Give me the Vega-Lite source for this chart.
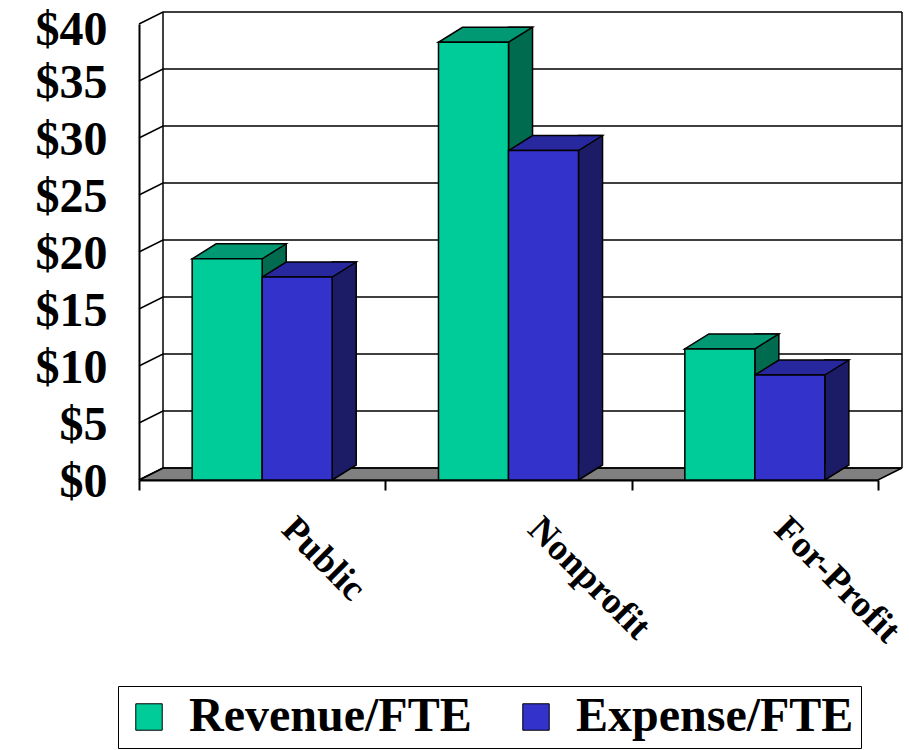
{
  "$schema": "https://vega.github.io/schema/vega-lite/v6.json",
  "width": 739,
  "height": 456,
  "autosize": {"type": "none"},
  "padding": {"left": 139, "top": 24, "right": 31, "bottom": 270},
  "background": "white",
  "config": {
    "view": {"stroke": null},
    "axisX": {
      "domain": true, "domainColor": "black", "domainWidth": 2,
      "ticks": true, "tickBand": "extent", "tickColor": "black", "tickWidth": 2, "tickSize": 10,
      "labelAngle": 45, "labelAlign": "left", "labelBaseline": "middle", "labelOffset": 25, "labelPadding": 33,
      "labelFont": "Liberation Serif", "labelFontSize": 37, "labelFontWeight": "bold", "labelColor": "black",
      "labelLimit": 400, "labelOverlap": false, "labelFlush": false, "grid": false
    },
    "axisY": {
      "domain": true, "domainColor": "black", "domainWidth": 2,
      "ticks": false, "tickSize": 0, "grid": false,
      "labelExpr": "'$' + datum.value",
      "labelFont": "Liberation Serif", "labelFontSize": 48, "labelFontWeight": "bold", "labelColor": "black",
      "labelPadding": 32, "labelBaseline": "middle",
      "labelOffset": {"condition": {"test": "datum.value === 40", "value": 6}, "value": 2},
      "labelFlush": false, "labelOverlap": false
    }
  },
  "resolve": {"scale": {"xOffset": "independent"}},
  "data": {
    "values": [
      {"category": "Public", "series": "Revenue/FTE", "value": 19.4},
      {"category": "Public", "series": "Expense/FTE", "value": 17.8},
      {"category": "Nonprofit", "series": "Revenue/FTE", "value": 38.4},
      {"category": "Nonprofit", "series": "Expense/FTE", "value": 28.9},
      {"category": "For-Profit", "series": "Revenue/FTE", "value": 11.5},
      {"category": "For-Profit", "series": "Expense/FTE", "value": 9.2}
    ]
  },
  "layer": [
    {
      "data": {"values": [{"floor": "floor"}]},
      "mark": {"type": "point", "shape": "M0 0 L739 0 L763 -12 L24 -12 Z", "size": 4, "filled": true, "fill": "#808080", "stroke": "black", "strokeWidth": 1.5, "opacity": 1},
      "encoding": {
        "x": {"datum": "Public", "type": "nominal", "bandPosition": 0, "title": null, "scale": {"type": "band", "domain": ["Public", "Nonprofit", "For-Profit"], "paddingInner": 0, "paddingOuter": 0}},
        "y": {"datum": 0, "type": "quantitative", "title": null, "scale": {"domain": [0, 40], "nice": false}}
      }
    },
    {
      "data": {"values": [{"v": 0}, {"v": 5}, {"v": 10}, {"v": 15}, {"v": 20}, {"v": 25}, {"v": 30}, {"v": 35}, {"v": 40}]},
      "mark": {"type": "point", "shape": "M0 0 L24 -12 L763 -12", "size": 4, "filled": false, "stroke": "black", "strokeWidth": 1.5, "opacity": 1},
      "encoding": {
        "x": {"datum": "Public", "type": "nominal", "bandPosition": 0, "title": null},
        "y": {"field": "v", "type": "quantitative", "title": null}
      }
    },
    {
      "data": {"values": [{"edge": "left"}]},
      "mark": {"type": "rule", "color": "black", "strokeWidth": 1.5, "xOffset": 24, "yOffset": -12, "y2Offset": -12},
      "encoding": {
        "x": {"datum": "Public", "type": "nominal", "bandPosition": 0, "title": null},
        "y": {"datum": 0, "type": "quantitative", "title": null},
        "y2": {"datum": 40}
      }
    },
    {
      "data": {"values": [{"edge": "right"}]},
      "mark": {"type": "rule", "color": "black", "strokeWidth": 1.5, "xOffset": 24, "yOffset": -12, "y2Offset": -12},
      "encoding": {
        "x": {"datum": "For-Profit", "type": "nominal", "bandPosition": 1, "title": null},
        "y": {"datum": 0, "type": "quantitative", "title": null},
        "y2": {"datum": 40}
      }
    },
    {
      "mark": {"type": "bar", "width": 24, "yOffset": -15, "y2Offset": -15, "stroke": "black", "strokeWidth": 1.5},
      "encoding": {
        "x": {"field": "category", "type": "nominal", "title": null},
        "xOffset": {"field": "series", "type": "nominal", "scale": {"type": "band", "domain": ["Revenue/FTE", "Expense/FTE"], "paddingInner": 0, "paddingOuter": 0.7595, "align": 0.9424}},
        "y": {"field": "value", "type": "quantitative", "title": null},
        "y2": {"datum": 0},
        "fill": {"condition": {"test": "datum.series === 'Revenue/FTE'", "value": "#006B4F"}, "value": "#1C1C66"}
      }
    },
    {
      "mark": {"type": "point", "shape": "M35 0 L59 -15 L59 -16.6 L35 -16.6 Z", "size": 4, "filled": true, "strokeWidth": 0, "opacity": 1},
      "encoding": {
        "x": {"field": "category", "type": "nominal", "title": null},
        "xOffset": {"field": "series", "type": "nominal", "scale": {"type": "band", "domain": ["Revenue/FTE", "Expense/FTE"], "paddingInner": 0, "paddingOuter": 0.7595}},
        "y": {"datum": 0, "type": "quantitative", "title": null},
        "fill": {"condition": {"test": "datum.series === 'Revenue/FTE'", "value": "#006B4F"}, "value": "#1C1C66"}
      }
    },
    {
      "mark": {"type": "point", "shape": "M35 0 L59 -15", "size": 4, "filled": false, "stroke": "black", "strokeWidth": 1.5, "opacity": 1},
      "encoding": {
        "x": {"field": "category", "type": "nominal", "title": null},
        "xOffset": {"field": "series", "type": "nominal", "scale": {"type": "band", "domain": ["Revenue/FTE", "Expense/FTE"], "paddingInner": 0, "paddingOuter": 0.7595}},
        "y": {"datum": 0, "type": "quantitative", "title": null}
      }
    },
    {
      "mark": {"type": "point", "shape": "M-35 0 L-11 -15 L59 -15 L35 0 Z", "size": 4, "filled": true, "stroke": "black", "strokeWidth": 1.5, "opacity": 1},
      "encoding": {
        "x": {"field": "category", "type": "nominal", "title": null},
        "xOffset": {"field": "series", "type": "nominal", "scale": {"type": "band", "domain": ["Revenue/FTE", "Expense/FTE"], "paddingInner": 0, "paddingOuter": 0.7595}},
        "y": {"field": "value", "type": "quantitative", "title": null},
        "fill": {"condition": {"test": "datum.series === 'Revenue/FTE'", "value": "#009973"}, "value": "#27279E"}
      }
    },
    {
      "mark": {"type": "bar", "stroke": "black", "strokeWidth": 1.5, "opacity": 1},
      "encoding": {
        "x": {"field": "category", "type": "nominal", "title": null},
        "xOffset": {"field": "series", "type": "nominal", "scale": {"type": "band", "domain": ["Revenue/FTE", "Expense/FTE"], "paddingInner": 0, "paddingOuter": 0.7595}},
        "y": {"field": "value", "type": "quantitative", "title": null},
        "color": {
          "field": "series", "type": "nominal",
          "scale": {"domain": ["Revenue/FTE", "Expense/FTE"], "range": ["#00CC99", "#3333CC"]},
          "legend": {
            "title": null, "orient": "none", "legendX": -21, "legendY": 662, "direction": "horizontal",
            "strokeColor": "black", "padding": 7,
            "symbolType": "square", "symbolSize": 700, "symbolStrokeColor": "black", "symbolStrokeWidth": 1, "symbolOpacity": 1,
            "labelFont": "Liberation Serif", "labelFontSize": 48, "labelFontWeight": "bold", "labelColor": "black",
            "labelLimit": 500, "columnPadding": 40, "labelOffset": 16
          }
        }
      }
    }
  ]
}
